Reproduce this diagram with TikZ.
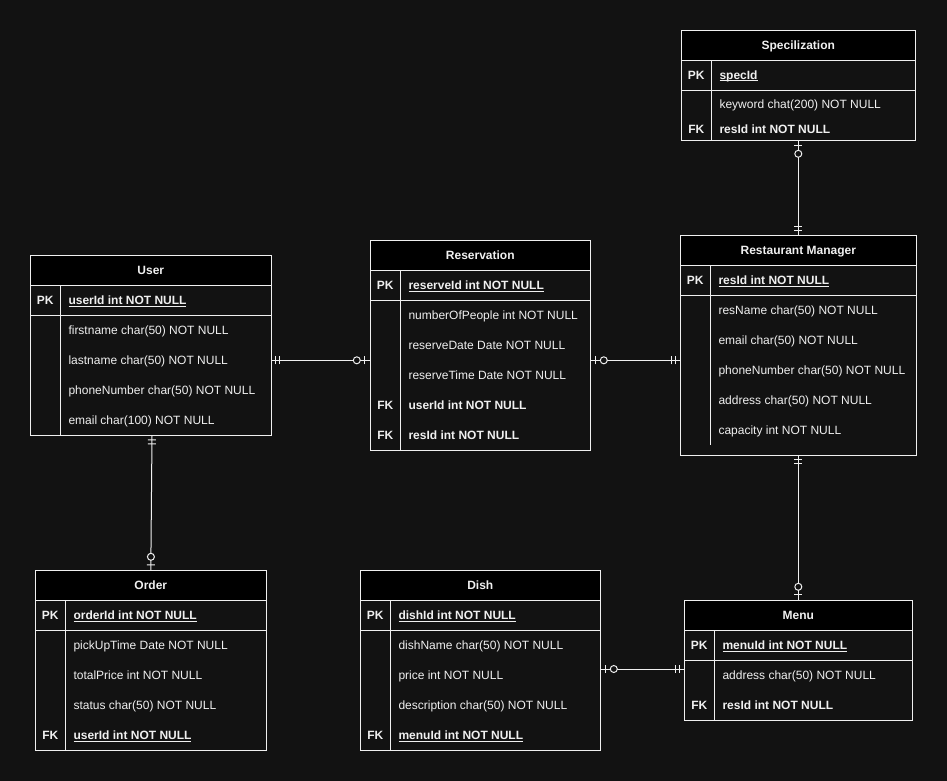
\documentclass[tikz,border=0pt]{standalone}
\usepackage{fontspec}
\setmainfont{Liberation Sans}
\usetikzlibrary{fit,decorations.markings}

\definecolor{bg}{HTML}{121212}
\definecolor{fg}{HTML}{F0F0F0}

\newcommand{\ul}[1]{\underline{\smash{#1}}}

% table frame: name, left, top, right, bottom, key column x, key column end, title
\newcommand{\ertable}[8]{%
  \node[tablebox, fit={(#2,#3) (#4,#5)}] (#1) {};
  \node[headbox, fit={(#2,#3) (#4,{#3+30})}] (#1-head) {};
  \node[titletext] (#1-title) at (#1-head.center) {#8};
  \draw[tableline] (#2,{#3+60}) -- (#4,{#3+60});
  \draw[tableline] (#6,{#3+30}) -- (#6,#7);
}

\tikzset{
  tableline/.style={draw=fg, line width=1pt},
  tablebox/.style={draw=fg, line width=1pt, fill=bg, inner sep=0pt},
  headbox/.style={draw=fg, line width=1pt, fill=black, inner sep=0pt},
  titletext/.style={text=fg, font=\bfseries\fontsize{12}{14}\selectfont,
    inner sep=0pt, text height=8.6pt, text depth=0pt},
  keytext/.style={text=fg, font=\bfseries\fontsize{12}{14}\selectfont,
    inner sep=0pt, anchor=base},
  fieldtext/.style={text=fg, font=\fontsize{12}{14}\selectfont,
    inner sep=0pt, anchor=base west},
  keyfield/.style={fieldtext, font=\bfseries\fontsize{12}{14}\selectfont},
  rel/.style={draw=fg, line width=1pt},
  crossbar/.style={draw=fg, line width=1pt},
  mandstart/.style={postaction={decorate, decoration={markings,
    mark=at position 4pt with {\draw[crossbar] (0,-4pt) -- (0,4pt);},
    mark=at position 8pt with {\draw[crossbar] (0,-4pt) -- (0,4pt);}}}},
  mandend/.style={postaction={decorate, decoration={markings,
    mark=at position -8pt with {\draw[crossbar] (0,-4pt) -- (0,4pt);},
    mark=at position -4pt with {\draw[crossbar] (0,-4pt) -- (0,4pt);}}}},
  zostart/.style={postaction={decorate, decoration={markings,
    mark=at position 5pt with {\draw[crossbar] (0,-4pt) -- (0,4pt);},
    mark=at position 13pt with {\draw[crossbar, fill=bg] (0,0) circle (3.5pt);}}}},
  zoend/.style={postaction={decorate, decoration={markings,
    mark=at position -13pt with {\draw[crossbar, fill=bg] (0,0) circle (3.5pt);},
    mark=at position -5pt with {\draw[crossbar] (0,-4pt) -- (0,4pt);}}}},
}

\begin{document}
\begin{tikzpicture}[x=1pt, y=-1pt]
\useasboundingbox[fill=bg] (0,0) rectangle (947,781);

% ---------- Specilization ----------
\ertable{spec}{681.3}{30.3}{915.3}{140.3}{711.3}{140.3}{Specilization}
\node[keytext] (spec-pk) at (696.3,79.3) {PK};
\node[keyfield] (spec-id) at (719.3,79.3) {\ul{specId}};
\node[fieldtext] (spec-kw) at (719.3,109) {keyword chat(200) NOT NULL};
\node[keytext] (spec-fk) at (696.3,133.5) {FK};
\node[keyfield] (spec-res) at (719.3,133.5) {resId int NOT NULL};

% ---------- User ----------
\ertable{user}{30.3}{255.3}{271.3}{435.3}{60.3}{435.3}{User}
\node[keytext] (user-pk) at (45.3,304.3) {PK};
\node[keyfield] (user-id) at (68.3,304.3) {\ul{userId int NOT NULL}};
\node[fieldtext] (user-f1) at (68.3,334.3) {firstname char(50) NOT NULL};
\node[fieldtext] (user-f2) at (68.3,364.3) {lastname char(50) NOT NULL};
\node[fieldtext] (user-f3) at (68.3,394.3) {phoneNumber char(50) NOT NULL};
\node[fieldtext] (user-f4) at (68.3,424.3) {email char(100) NOT NULL};

% ---------- Reservation ----------
\ertable{resv}{370.3}{240.3}{590.3}{450.3}{400.3}{450.3}{Reservation}
\node[keytext] (resv-pk) at (385.3,289.3) {PK};
\node[keyfield] (resv-id) at (408.3,289.3) {\ul{reserveId int NOT NULL}};
\node[fieldtext] (resv-f1) at (408.3,319.3) {numberOfPeople int NOT NULL};
\node[fieldtext] (resv-f2) at (408.3,349.3) {reserveDate Date NOT NULL};
\node[fieldtext] (resv-f3) at (408.3,379.3) {reserveTime Date NOT NULL};
\node[keytext] (resv-fk1) at (385.3,409.3) {FK};
\node[keyfield] (resv-user) at (408.3,409.3) {userId int NOT NULL};
\node[keytext] (resv-fk2) at (385.3,439.3) {FK};
\node[keyfield] (resv-res) at (408.3,439.3) {resId int NOT NULL};

% ---------- Restaurant Manager ----------
\ertable{rm}{680.3}{235.3}{916.3}{455.3}{710.3}{445.3}{Restaurant Manager}
\node[keytext] (rm-pk) at (695.3,284.3) {PK};
\node[keyfield] (rm-id) at (718.3,284.3) {\ul{resId int NOT NULL}};
\node[fieldtext] (rm-f1) at (718.3,314.3) {resName char(50) NOT NULL};
\node[fieldtext] (rm-f2) at (718.3,344.3) {email char(50) NOT NULL};
\node[fieldtext] (rm-f3) at (718.3,374.3) {phoneNumber char(50) NOT NULL};
\node[fieldtext] (rm-f4) at (718.3,404.3) {address char(50) NOT NULL};
\node[fieldtext] (rm-f5) at (718.3,434.3) {capacity int NOT NULL};

% ---------- Order ----------
\ertable{order}{35.3}{570.3}{266.3}{750.3}{65.3}{750.3}{Order}
\node[keytext] (order-pk) at (50.3,619.3) {PK};
\node[keyfield] (order-id) at (73.3,619.3) {\ul{orderId int NOT NULL}};
\node[fieldtext] (order-f1) at (73.3,649.3) {pickUpTime Date NOT NULL};
\node[fieldtext] (order-f2) at (73.3,679.3) {totalPrice int NOT NULL};
\node[fieldtext] (order-f3) at (73.3,709.3) {status char(50) NOT NULL};
\node[keytext] (order-fk) at (50.3,739.3) {FK};
\node[keyfield] (order-user) at (73.3,739.3) {\ul{userId int NOT NULL}};

% ---------- Dish ----------
\ertable{dish}{360.3}{570.3}{600.3}{750.3}{390.3}{750.3}{Dish}
\node[keytext] (dish-pk) at (375.3,619.3) {PK};
\node[keyfield] (dish-id) at (398.3,619.3) {\ul{dishId int NOT NULL}};
\node[fieldtext] (dish-f1) at (398.3,649.3) {dishName char(50) NOT NULL};
\node[fieldtext] (dish-f2) at (398.3,679.3) {price int NOT NULL};
\node[fieldtext] (dish-f3) at (398.3,709.3) {description char(50) NOT NULL};
\node[keytext] (dish-fk) at (375.3,739.3) {FK};
\node[keyfield] (dish-menu) at (398.3,739.3) {\ul{menuId int NOT NULL}};

% ---------- Menu ----------
\ertable{menu}{684.3}{600.3}{912.3}{720.3}{714.3}{720.3}{Menu}
\node[keytext] (menu-pk) at (699.3,649.3) {PK};
\node[keyfield] (menu-id) at (722.3,649.3) {\ul{menuId int NOT NULL}};
\node[fieldtext] (menu-f1) at (722.3,679.3) {address char(50) NOT NULL};
\node[keytext] (menu-fk) at (699.3,709.3) {FK};
\node[keyfield] (menu-res) at (722.3,709.3) {resId int NOT NULL};

% ---------- relationships ----------
\draw[rel, mandstart, zoend] ([yshift=-15pt]user.east) -- ([yshift=-15pt]resv.west);
\draw[rel, zostart, mandend] ([yshift=-15pt]resv.east) -- ([yshift=-15pt]rm.west);
\draw[rel, zostart, mandend] (spec.south) -- (rm.north);
\draw[rel, mandstart, zoend] ([xshift=1.2pt]user.south) -- (order.north);
\draw[rel, mandstart, zoend] (rm.south) -- (menu.north);
\draw[rel, zostart, mandend] ([yshift=-8.7pt]dish.east) -- ([yshift=-8.7pt]menu.west);
\end{tikzpicture}
\end{document}
